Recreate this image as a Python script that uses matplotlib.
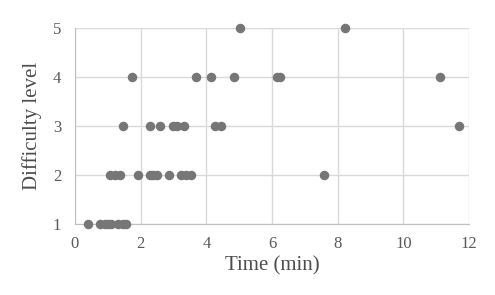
import matplotlib.pyplot as plt

time_min = [0.4, 0.75, 0.9, 1.0, 1.1, 1.3, 1.45, 1.55,
            1.07, 1.22, 1.37, 1.91, 2.27, 2.39, 2.51, 2.85, 3.23, 3.38, 3.53, 7.57,
            1.45, 2.29, 2.59, 2.97, 3.12, 3.33, 4.25, 4.45, 11.71,
            1.75, 3.68, 4.15, 4.85, 6.15, 6.25, 11.13,
            5.03, 8.21]
difficulty = [1, 1, 1, 1, 1, 1, 1, 1,
              2, 2, 2, 2, 2, 2, 2, 2, 2, 2, 2, 2,
              3, 3, 3, 3, 3, 3, 3, 3, 3,
              4, 4, 4, 4, 4, 4, 4,
              5, 5]

plt.rcParams['font.family'] = ['Liberation Serif', 'DejaVu Serif']

fig = plt.figure(figsize=(4.95, 2.95), dpi=100)
ax = fig.add_axes([0.1515, 0.241, 0.796, 0.664])

ax.scatter(time_min, difficulty, s=34, color='#767676', zorder=3, clip_on=False)

ax.set_xlim(0, 12)
ax.set_ylim(1, 5)
ax.set_xticks(range(0, 13, 2))
ax.set_yticks(range(1, 6))
ax.grid(True, color='#d9d9d9', linewidth=1)
for s in ['top', 'right']:
    ax.spines[s].set_visible(False)
for s in ['left', 'bottom']:
    ax.spines[s].set_color('#bfbfbf')
ax.tick_params(length=0, labelsize=12, colors='#595959')
ax.tick_params(axis='x', pad=9)
ax.tick_params(axis='y', pad=10)
ax.set_xlabel('Time (min)', fontsize=15, color='#4d4d4d', labelpad=3)
ax.set_ylabel('Difficulty level', fontsize=15, color='#4d4d4d', labelpad=8)

plt.savefig('out.png')
